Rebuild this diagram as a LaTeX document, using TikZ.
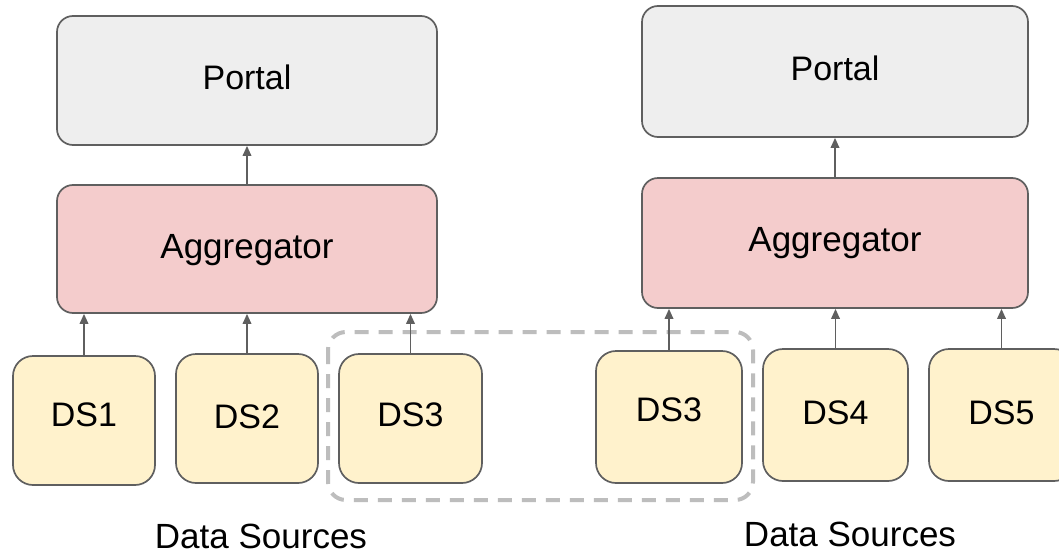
\documentclass[tikz,border=0pt]{standalone}
\usepackage{fontspec}
\setmainfont{Liberation Sans}
\usetikzlibrary{arrows.meta}
\definecolor{edge}{HTML}{5F5F5F}
\definecolor{portalfill}{HTML}{EEEEEE}
\definecolor{aggfill}{HTML}{F4CCCC}
\definecolor{dsfill}{HTML}{FFF2CC}
\definecolor{dashgray}{HTML}{BDBDBD}
\tikzset{
  box/.style={draw=edge, line width=1.7pt, rounded corners=16pt, inner sep=0pt},
  portalbox/.style={box, fill=portalfill},
  aggbox/.style={box, fill=aggfill},
  dsbox/.style={box, fill=dsfill, rounded corners=20pt},
  lbl/.style={font=\fontsize{34}{40}\selectfont, text=black, inner sep=0pt},
  agglbl/.style={font=\fontsize{35}{40}\selectfont, text=black, inner sep=0pt},
  captext/.style={font=\fontsize{35}{40}\selectfont, text=black, inner sep=0pt},
  link/.style={draw=edge, line width=1.8pt, -{Triangle[length=10pt,width=8.5pt]}},
  groupbox/.style={draw=dashgray, line width=4pt, dash pattern=on 14pt off 10pt, rounded corners=18pt}
}
\begin{document}
\begin{tikzpicture}[x=1pt,y=-1pt]
\clip (0,0) rectangle (1059,554);
\fill[white] (0,0) rectangle (1059,554);

% dashed group
\draw[groupbox] (328,332) rectangle (753,500);

% left side
\node[portalbox, minimum width=380pt, minimum height=129pt] (pL) at (247,80.5) {};
\node[aggbox, minimum width=380pt, minimum height=128pt] (aL) at (247,249) {};
\node[dsbox, minimum width=142pt, minimum height=129pt] (d1) at (84,420.5) {};
\node[dsbox, minimum width=142pt, minimum height=129pt] (d2) at (247,418.5) {};
\node[dsbox, minimum width=143pt, minimum height=129pt] (d3L) at (410.5,418.5) {};

\node[lbl] (tpL) at (247,77) {Portal};
\node[agglbl] (taL) at (247,250) {Aggregator};
\node[lbl] (t1) at (84,415) {DS1};
\node[lbl] (t2) at (247,417) {DS2};
\node[lbl] (t3L) at (410.5,415) {DS3};
\node[captext] (csL) at (261,536.5) {Data Sources};

% right side
\node[portalbox, minimum width=386pt, minimum height=131pt] (pR) at (835,71.5) {};
\node[aggbox, minimum width=386pt, minimum height=130pt] (aR) at (835,243) {};
\node[dsbox, minimum width=146pt, minimum height=132pt] (d3R) at (669,417) {};
\node[dsbox, minimum width=145pt, minimum height=132pt] (d4) at (835.5,415) {};
\node[dsbox, minimum width=145pt, minimum height=132pt] (d5) at (1001.5,415) {};

\node[lbl] (tpR) at (835,68) {Portal};
\node[agglbl] (taR) at (835,243) {Aggregator};
\node[lbl] (t3R) at (669,410) {DS3};
\node[lbl] (t4) at (835.5,413) {DS4};
\node[lbl] (t5) at (1001.5,413) {DS5};
\node[captext] (csR) at (850,534) {Data Sources};

% connectors
\draw[link] (aL.north) -- (pL.south);
\draw[link] (d1.north) -- (d1.north |- aL.south);
\draw[link] (d2.north) -- (d2.north |- aL.south);
\draw[link] (d3L.north) -- (d3L.north |- aL.south);
\draw[link] (aR.north) -- (pR.south);
\draw[link] (d3R.north) -- (d3R.north |- aR.south);
\draw[link] (d4.north) -- (d4.north |- aR.south);
\draw[link] (d5.north) -- (d5.north |- aR.south);
\end{tikzpicture}
\end{document}
